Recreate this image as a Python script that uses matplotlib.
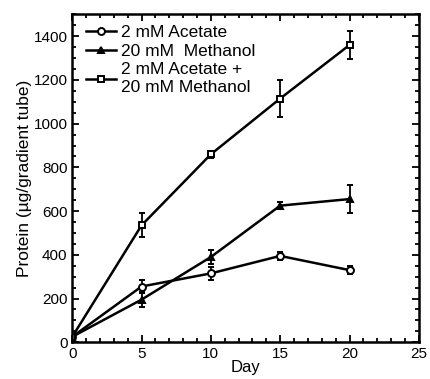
import matplotlib
matplotlib.use("Agg")
import matplotlib.pyplot as plt
from matplotlib.ticker import MultipleLocator
from matplotlib.lines import Line2D

plt.rcParams['font.family'] = ['Liberation Sans', 'DejaVu Sans']

days = [0, 5, 10, 15, 20]
acetate = [25, 255, 315, 395, 330]
acetate_err = [0, 30, 30, 20, 20]
methanol = [25, 195, 390, 625, 655]
methanol_err = [0, 35, 30, 15, 65]
both = [25, 535, 860, 1115, 1360]
both_err = [0, 55, 15, 85, 65]

labels = ["2 mM Acetate", "20 mM  Methanol", "2 mM Acetate +\n20 mM Methanol"]

fig = plt.figure(figsize=(4.3, 3.79), dpi=100)
ax = fig.add_axes([0.168, 0.097, 0.806, 0.865])

kw = dict(color='black', lw=1.8, capsize=2.5, elinewidth=1.3, capthick=1.3, ms=5, mew=1.4)
styles = [('o', 'white'), ('^', 'black'), ('s', 'white')]
series = [(acetate, acetate_err), (methanol, methanol_err), (both, both_err)]
handles = []
for (vals, err), (m, fc), lab in zip(series, styles, labels):
    ax.errorbar(days, vals, yerr=err, marker=m, mfc=fc, mec='black', **kw)
    handles.append(Line2D([], [], color='black', lw=1.8, marker=m, mfc=fc, mec='black', ms=5, mew=1.4, label=lab))

ax.set_xlim(0, 25)
ax.set_ylim(0, 1500)
ax.xaxis.set_major_locator(MultipleLocator(5))
ax.xaxis.set_minor_locator(MultipleLocator(1))
ax.yaxis.set_major_locator(MultipleLocator(200))
ax.yaxis.set_minor_locator(MultipleLocator(50))
ax.tick_params(which='both', direction='in', top=True, right=True, labelsize=11, width=1.3)
ax.tick_params(which='major', length=5)
ax.tick_params(which='minor', length=3)
for s in ax.spines.values():
    s.set_linewidth(1.8)

ax.set_xlabel("Day", fontsize=12, labelpad=-1)
ax.set_ylabel("Protein (µg/gradient tube)", fontsize=12.5, labelpad=1)

leg = ax.legend(handles=handles, loc='upper left', frameon=False, fontsize=12.5, handlelength=1.7,
                bbox_to_anchor=(0.025, 0.985), borderaxespad=0.0,
                labelspacing=0.22, handletextpad=0.3, borderpad=0.3)

fig.savefig("out.png", dpi=100)
